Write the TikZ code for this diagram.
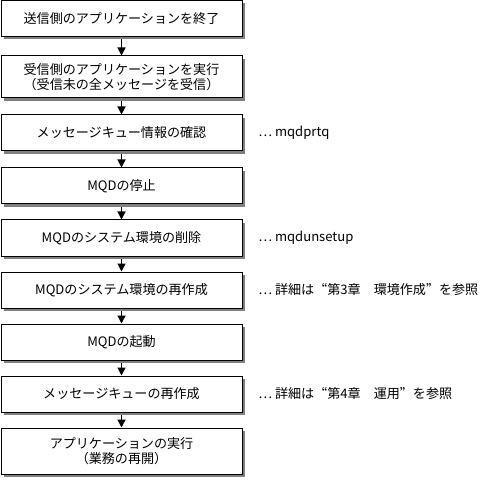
\documentclass[tikz,border=0pt]{standalone}
\usepackage{fontspec}
\setmainfont{Noto Sans CJK JP}
\newcommand\fw[1]{{\addfontfeatures{CharacterWidth=Full}#1}}
\usetikzlibrary{arrows.meta,shadows,backgrounds}

\begin{document}
\begin{tikzpicture}[x=0.75pt, y=-0.75pt,
  every node/.style={font=\fontsize{9.8pt}{11pt}\selectfont},
  stepbox/.style={draw, line width=0.75pt, fill=white, inner sep=0pt, align=center,
    minimum width=180.75pt, minimum height=27pt,
    drop shadow={shadow xshift=2.25pt, shadow yshift=-2.25pt, fill=black!50, opacity=1}},
  note/.style={anchor=west, inner sep=0pt},
  flow/.style={-{Triangle[width=6pt,length=6pt]}, line width=1pt}]
\useasboundingbox (0,0) rectangle (481,484);

% ---------- STEPS ----------
\node[stepbox] (s1) at (121.5,18.5) {送信側のアプリケーションを終了};
\node[stepbox, minimum height=31.5pt] (s2) at (121.5,77) {受信側のアプリケーションを実行\\（受信未の全メッセージを受信）};
\node[stepbox] (s3) at (121.5,133) {メッセージキュー情報の確認};
\node[stepbox] (s4) at (121.5,186) {MQDの停止};
\node[stepbox] (s5) at (121.5,238) {MQDのシステム環境の削除};
\node[stepbox] (s6) at (121.5,290) {MQDのシステム環境の再作成};
\node[stepbox] (s7) at (121.5,342) {MQDの起動};
\node[stepbox] (s8) at (121.5,394) {メッセージキューの再作成};
\node[stepbox, minimum height=34.5pt] (s9) at (121.5,451) {アプリケーションの実行\\（業務の再開）};

% ---------- NOTES ----------
\node[note] (n3) at (258,133) {\fw{…} mqdprtq};
\node[note] (n5) at (258,238) {\fw{…} mqdunsetup};
\node[note] (n6) at (258,290) {\fw{…} 詳細は\fw{“}第3章　環境作成\fw{”}を参照};
\node[note] (n8) at (258,394) {\fw{…} 詳細は\fw{“}第4章　運用\fw{”}を参照};

% ---------- ARROWS ----------
\begin{scope}[on background layer]
  \foreach \a/\b in {s1/s2, s2/s3, s3/s4, s4/s5, s5/s6, s6/s7, s7/s8, s8/s9}
    \draw[flow] (\a) -- (\b);
\end{scope}

\end{tikzpicture}
\end{document}
